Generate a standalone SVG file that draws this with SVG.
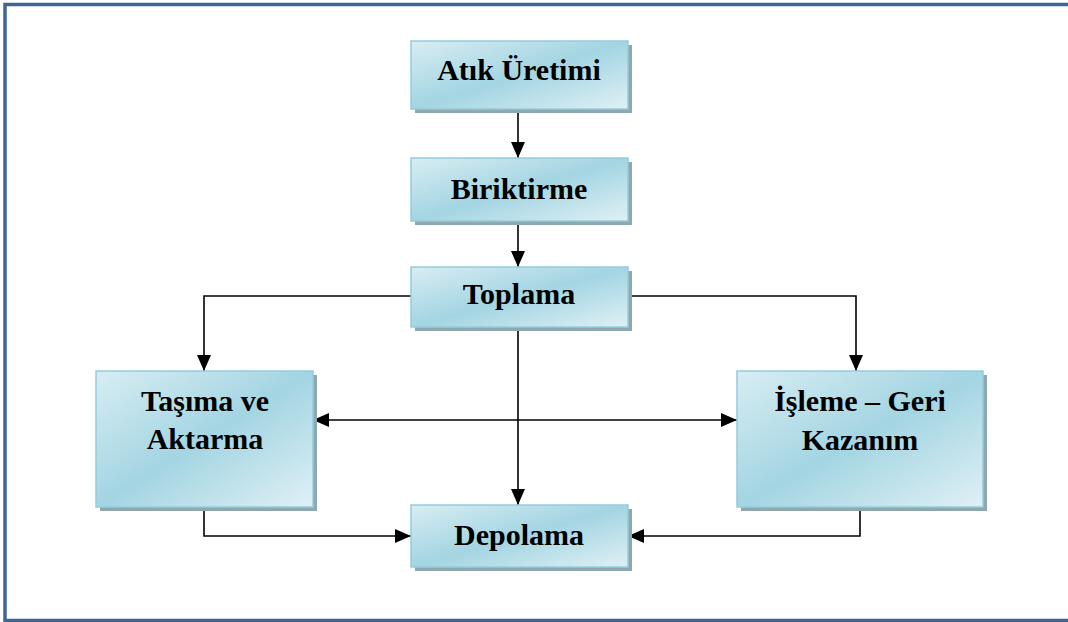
<svg xmlns="http://www.w3.org/2000/svg" width="1068" height="622" viewBox="0 0 1068 622">
<style>
.box{fill:url(#g);stroke:#92CDDC;stroke-width:1.5}
.sh{fill:#8FA7AF}
.t{font-family:"Liberation Serif","Times New Roman",serif;font-weight:bold;font-size:30px;fill:#000;text-anchor:middle}
.c{fill:none;stroke:#000;stroke-width:1.6}
</style>
<defs>
<linearGradient id="g" x1="0" y1="0" x2="1" y2="1">
<stop offset="0" stop-color="#D8EDF3"/>
<stop offset="0.5" stop-color="#A3D5E2"/>
<stop offset="1" stop-color="#E0F0F5"/>
</linearGradient>
<marker id="a" viewBox="0 0 16 14" refX="16" refY="7" markerWidth="16" markerHeight="14" markerUnits="userSpaceOnUse" orient="auto-start-reverse">
<path d="M0,0 L16,7 L0,14 Z" fill="#000"/>
</marker>
</defs>
<rect x="0" y="0" width="1068" height="622" fill="#fff"/>
<rect x="5" y="4.5" width="1075" height="616" fill="none" stroke="#3F6597" stroke-width="3.5"/>
<g id="connectors">
<line class="c" x1="518" y1="110" x2="518" y2="158" marker-end="url(#a)"/>
<line class="c" x1="518" y1="222" x2="518" y2="267" marker-end="url(#a)"/>
<polyline class="c" points="411,296 204,296 204,371" marker-end="url(#a)"/>
<polyline class="c" points="628,296 856,296 856,371" marker-end="url(#a)"/>
<line class="c" x1="518" y1="328" x2="518" y2="505" marker-end="url(#a)"/>
<line class="c" x1="313" y1="420" x2="737" y2="420" marker-start="url(#a)" marker-end="url(#a)"/>
<polyline class="c" points="204,508 204,536 411,536" marker-end="url(#a)"/>
<polyline class="c" points="860,508 860,536 628,536" marker-end="url(#a)"/>
</g>
<g id="atik">
<rect class="sh" x="415" y="45" width="217" height="68"/>
<rect class="box" x="411" y="41" width="217" height="68"/>
<text class="t" x="519" y="80">Atık Üretimi</text>
</g>
<g id="biriktirme">
<rect class="sh" x="415" y="162" width="217" height="63"/>
<rect class="box" x="411" y="158" width="217" height="63"/>
<text class="t" x="519" y="199">Biriktirme</text>
</g>
<g id="toplama">
<rect class="sh" x="415" y="271" width="217" height="60"/>
<rect class="box" x="411" y="267" width="217" height="60"/>
<text class="t" x="519" y="304">Toplama</text>
</g>
<g id="tasima">
<rect class="sh" x="100" y="375" width="217" height="136"/>
<rect class="box" x="96" y="371" width="217" height="136"/>
<text class="t" x="205" y="411">Taşıma ve</text>
<text class="t" x="205" y="449">Aktarma</text>
</g>
<g id="isleme">
<rect class="sh" x="741" y="375" width="246" height="136"/>
<rect class="box" x="737" y="371" width="246" height="136"/>
<text class="t" x="860" y="411">İşleme – Geri</text>
<text class="t" x="860" y="450">Kazanım</text>
</g>
<g id="depolama">
<rect class="sh" x="415" y="509" width="217" height="62"/>
<rect class="box" x="411" y="505" width="217" height="62"/>
<text class="t" x="519" y="545">Depolama</text>
</g>
</svg>
